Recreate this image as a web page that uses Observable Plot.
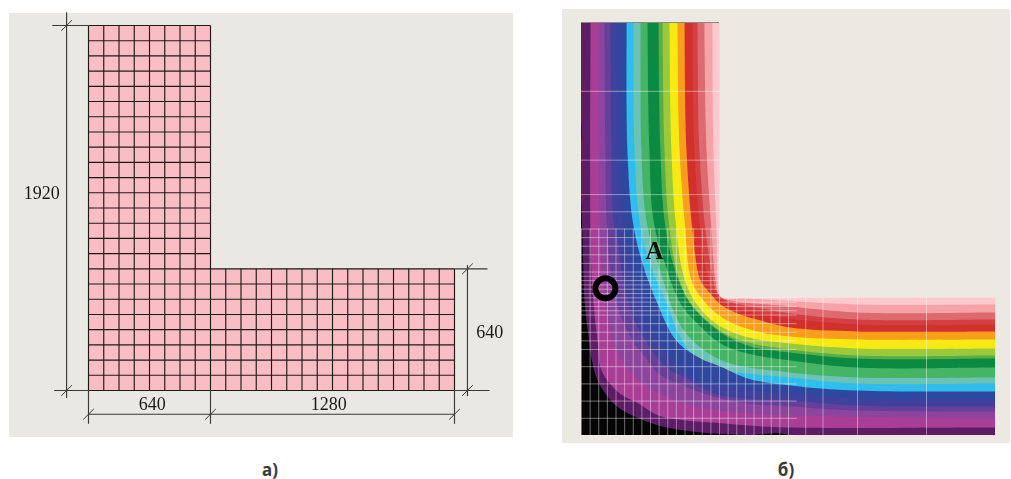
<!DOCTYPE html>
<html><head><meta charset="utf-8">
<script src="https://cdn.jsdelivr.net/npm/d3@7"></script>
<script src="https://cdn.jsdelivr.net/npm/@observablehq/plot@0.6"></script>
<style>
html,body{margin:0;padding:0;background:#fff;width:1011px;height:479px;overflow:hidden}
#wrap{position:relative;width:1011px;height:479px}
.panel{position:absolute}
.panel svg{display:block}
#a svg{filter:blur(0.25px)}
#b svg{filter:blur(0.45px)}
.cap{position:absolute;top:459px;width:60px;text-align:center;font:700 17px/22px "Noto Sans",sans-serif;color:#3a3a3a}
</style></head><body>
<div id="wrap">
<div class="panel" id="a" style="left:9px;top:13px"></div>
<div class="panel" id="b" style="left:562px;top:9px"></div>
<div class="cap" style="left:240px">а)</div>
<div class="cap" style="left:756px">б)</div>
</div>
<script>
// Outline of the L-shaped section, mm
const section = [[0,0],[1920,0],[1920,640],[640,640],[640,1920],[0,1920]];
// Panel a: mesh step and dimension labels
const meshStepA = 80;
const dimLabels = [
  {x:-245,y:1040,text:"1920"},
  {x:335,y:-72,text:"640"},
  {x:1260,y:-72,text:"1280"},
  {x:2105,y:305,text:"640"}
];
const dimLines = [
  [-115,1990,-115,-40],[-190,1920,0,1920],[-180,0,0,0],
  [0,-125,1920,-125],[0,0,0,-175],[640,0,640,-175],[1920,0,1920,-175],
  [1988,660,1988,-30],[1920,640,2093,640],[1920,0,2104,0]
];
const dimTicks = [[-115,1920],[-115,0],[0,-125],[640,-125],[1920,-125],[1988,640],[1988,0]];

// Panel b: isotherms, mm, from the inner corner to the outer corner
const iso01 = [[607,1920],[612,1325],[626,953],[635,674],[649,642],[761,637],[1280,609],[1920,609]];
const iso02 = [[570,1920],[580,1325],[603,953],[621,721],[640,646],[691,628],[969,600],[1280,572],[1920,572]];
const iso03 = [[538,1920],[547,1325],[575,953],[603,767],[631,660],[682,623],[784,600],[969,567],[1280,539],[1920,539]];
const iso04 = [[515,1920],[524,1325],[552,953],[584,744],[617,660],[668,614],[784,577],[969,544],[1280,516],[1920,516]];
const iso05 = [[478,1920],[487,1325],[515,953],[552,721],[598,660],[645,609],[724,567],[830,535],[969,502],[1280,484],[1920,484]];
const iso06 = [[445,1920],[455,1325],[478,1000],[510,721],[566,628],[659,544],[798,488],[969,460],[1280,446],[1920,446]];
const iso07 = [[408,1920],[417,1325],[436,1000],[473,744],[529,618],[617,525],[756,460],[969,428],[1280,405],[1920,405]];
const iso08 = [[376,1920],[385,1325],[404,1000],[441,767],[496,628],[580,535],[691,460],[793,428],[969,400],[1280,372],[1920,372]];
const iso09 = [[357,1920],[366,1325],[385,1000],[427,790],[482,651],[552,558],[668,465],[784,414],[969,386],[1280,358],[1920,358]];
const iso10 = [[306,1920],[315,1325],[334,1000],[390,790],[459,614],[538,521],[645,428],[770,381],[969,349],[1280,316],[1920,316]];
const iso11 = [[274,1920],[278,1325],[301,1000],[357,790],[459,512],[552,409],[677,339],[969,293],[1280,270],[1920,270]];
const iso12 = [[241,1920],[246,1325],[269,1000],[320,790],[399,605],[459,456],[538,358],[677,302],[969,270],[1280,242],[1920,242]];
const iso13 = [[209,1920],[213,1325],[237,1000],[283,800],[352,614],[440,440],[552,358],[645,321],[770,265],[969,233],[1280,209],[1920,205]];
const iso14 = [[167,1920],[176,1325],[190,1000],[227,767],[297,535],[350,442],[390,386],[506,274],[645,233],[969,195],[1280,172],[1920,167]];
const iso15 = [[134,1920],[139,1325],[148,1000],[167,907],[204,674],[255,512],[297,442],[352,363],[413,302],[482,270],[612,195],[770,172],[969,163],[1280,140],[1920,135]];
const iso16 = [[107,1920],[111,1325],[121,907],[158,628],[237,442],[297,363],[357,288],[459,237],[612,181],[770,149],[969,135],[1280,116],[1920,112]];
const iso17 = [[79,1920],[79,1325],[88,907],[107,628],[144,442],[204,326],[297,233],[390,181],[506,140],[770,102],[969,93],[1920,79]];
const iso18 = [[42,1920],[42,907],[51,674],[74,442],[93,302],[172,200],[264,149],[357,93],[482,70],[612,60],[770,47],[969,37],[1920,37]];
const iso19 = [[-8,1230],[5,907],[14,628],[32,465],[51,335],[79,247],[148,149],[237,93],[357,47],[482,23],[612,9],[770,2],[969,-5]];
const isotherms = [iso01,iso02,iso03,iso04,iso05,iso06,iso07,iso08,iso09,iso10,iso11,iso12,iso13,iso14,iso15,iso16,iso17,iso18,iso19];
const baseColor = "#fdc9cd";
const bandColors = ["#f6a3a8","#dc6a70","#d43f42","#d2302c","#f99d1c","#f7ea14","#9bc93c","#58ae46","#0b8a42","#45b465","#6cc3b3","#2fbdee","#2f479f","#3f429c","#653f99","#8d449d","#aa3e97","#5c1c66","#050505"];
// Panel b: finite-element mesh positions, mm
const meshX = [0,40,80,120,160,200,240,280,320,360,400,440,480,520,560,600,640,680,720,760,800,840,880,920,960,1040,1120,1280,1600];
const meshY = [0,80,160,240,320,400,440,480,520,560,580,600,620,640,660,680,700,720,740,760,800,840,880,920,960,1040,1120,1280,1600];
const meshReachY = 960;   // vertical lines fade out above this height in the upper arm
const meshReachX = 1000;  // horizontal lines fade out beyond this distance in the lower arm
const pointO = [{x:111,y:684}];
const pointA = [{x:339,y:860,text:"A"}];

const X=d=>d[0], Y=d=>d[1];
const serif = "'Liberation Serif',serif";
const scales = {x:{domain:[0,1920],axis:null}, y:{domain:[0,1920],axis:null}};
const xs = d3.range(0,1921,meshStepA);

// Panel a
const gridV = xs.map(v=>[v,0,v,v<=640?1920:640]);
const gridH = xs.map(v=>[0,v,v<=640?1920:640,v]);
const link = (rows,o)=>Plot.link(rows,{x1:d=>d[0],y1:d=>d[1],x2:d=>d[2],y2:d=>d[3],...o});
const plotA = Plot.plot({
  width:504,height:424,marginLeft:79,marginRight:59,marginTop:12,marginBottom:47,
  ...scales,
  style:{background:"#e9e8e2",overflow:"visible"},
  marks:[
    Plot.line(section,{x:X,y:Y,fill:"#f9bec3",stroke:null}),
    link(gridV,{stroke:"#1f1a1a",strokeWidth:1.15}),
    link(gridH,{stroke:"#1f1a1a",strokeWidth:1.15}),
    link(dimLines,{stroke:"#3a3a3a",strokeWidth:1.15}),
    link(dimTicks.map(([x,y])=>[x-28,y-28,x+28,y+28]),{stroke:"#3a3a3a",strokeWidth:1}),
    Plot.text(dimLabels,{x:"x",y:"y",text:"text",fontFamily:serif,fontSize:18,fill:"#1a1a1a"})
  ]
});
document.getElementById("a").append(plotA);

// Panel b
const closed = iso => {
  const first = iso[0], last = iso[iso.length-1];
  if (iso === iso19) return [[-150,1500],[-20,1500],...iso,[last[0],-150],[-150,-150]];
  return [[first[0],2150],...iso,[2150,last[1]],[2150,-150],[-150,-150],[-150,2150]];
};
const plotB = Plot.plot({
  width:448,height:434,marginLeft:19,marginRight:15,marginTop:13,marginBottom:8,
  ...scales,
  style:{background:"#ece9e2"},
  marks:[
    Plot.line(section,{x:X,y:Y,fill:baseColor,stroke:null}),
    ...isotherms.map((iso,i)=>Plot.line(closed(iso),{x:X,y:Y,fill:bandColors[i],stroke:null,curve:"catmull-rom",clip:true})),
    Plot.ruleX(meshX,{y1:0,y2:d=>d<=640?meshReachY:640,stroke:"#fff",strokeOpacity:0.42,strokeWidth:1}),
    Plot.ruleY(meshY,{x1:0,x2:d=>d<=640?meshReachX:640,stroke:"#fff",strokeOpacity:0.42,strokeWidth:1}),
    Plot.ruleY([1920],{x1:0,x2:640,stroke:"#8a8a80",strokeWidth:1}),
    Plot.dot(pointO,{x:"x",y:"y",r:10,stroke:"#000",strokeWidth:6,fill:"none"}),
    Plot.text(pointA,{x:"x",y:"y",text:"text",fontFamily:serif,fontWeight:700,fontSize:25,fill:"#111"})
  ]
});
document.getElementById("b").append(plotB);
</script>
</body></html>
